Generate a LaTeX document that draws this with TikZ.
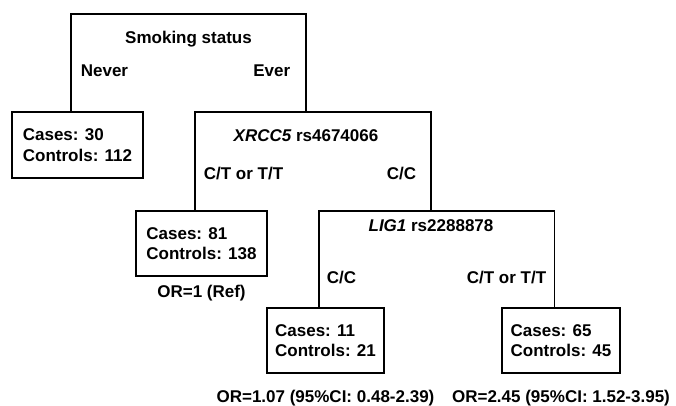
\documentclass[tikz,border=0pt]{standalone}
\usepackage{fontspec}
\setmainfont{Liberation Sans}
\begin{document}
\begin{tikzpicture}[x=1pt,y=-1pt,line width=1.7pt,line join=miter,
  txt/.style={font=\fontsize{17}{20.5}\selectfont\bfseries},
  leaf/.style={txt,draw,rectangle,inner sep=0pt,align=left,minimum height=65pt},
  lbl/.style={txt,inner sep=0pt}]
\useasboundingbox (0,0) rectangle (676,405);

% leaves
\node[leaf,minimum width=131pt,minimum height=66pt] (l30) at (77.5,145) {Cases: 30\\Controls: 112};
\node[leaf,minimum width=131pt] (l81) at (201.5,243.5) {Cases: 81\\Controls: 138};
\node[leaf,minimum width=117pt] (l11) at (325.5,340.5) {Cases: 11\\Controls: 21};
\node[leaf,minimum width=118pt] (l65) at (561,340.5) {Cases: 65\\Controls: 45};

% stems of the leaves
\coordinate (l30s) at ([xshift=-6.5pt]l30.north);
\coordinate (l81s) at ([xshift=-6.5pt]l81.north);
\coordinate (l11s) at ([xshift=-6.5pt]l11.north);
\coordinate (l65s) at ([xshift=-6.5pt]l65.north);

% split points
\coordinate (smk) at (188.5,14);
\coordinate (xr) at (306,112);
\coordinate (lg) at (431,211);

% split labels
\node[lbl,anchor=base] (smkt) at (188.5,43.5) {Smoking status};
\node[lbl,anchor=base west] (never) at (80,76) {Never};
\node[lbl,anchor=base east] (ever) at (291,76) {Ever};
\node[lbl,anchor=base] (xrt) at (306,141) {\itshape XRCC5\upshape{} rs4674066};
\node[lbl,anchor=base west] (xrl) at (203,179) {C/T or T/T};
\node[lbl,anchor=base east] (xrr) at (417,179) {C/C};
\node[lbl,anchor=base] (lgt) at (431,231.5) {\itshape LIG1\upshape{} rs2288878};
\node[lbl,anchor=base west] (lgl) at (326,283) {C/C};
\node[lbl,anchor=base east] (lgr) at (547,283) {C/T or T/T};

% odds ratios
\node[lbl,anchor=base] (or1) at ([yshift=-21pt]l81.south) {OR=1 (Ref)};
\node[lbl,anchor=base] (or2) at ([yshift=-29pt]l11.south) {OR=1.07 (95\%CI: 0.48-2.39)};
\node[lbl,anchor=base] (or3) at ([yshift=-29pt]l65.south) {OR=2.45 (95\%CI: 1.52-3.95)};

% brackets
\draw (l30s) |- (smk) -| (xr);
\draw (l81s) |- (xr) -| (lg);
\draw (l11s) |- (lg) -| (l65s);
\end{tikzpicture}
\end{document}
